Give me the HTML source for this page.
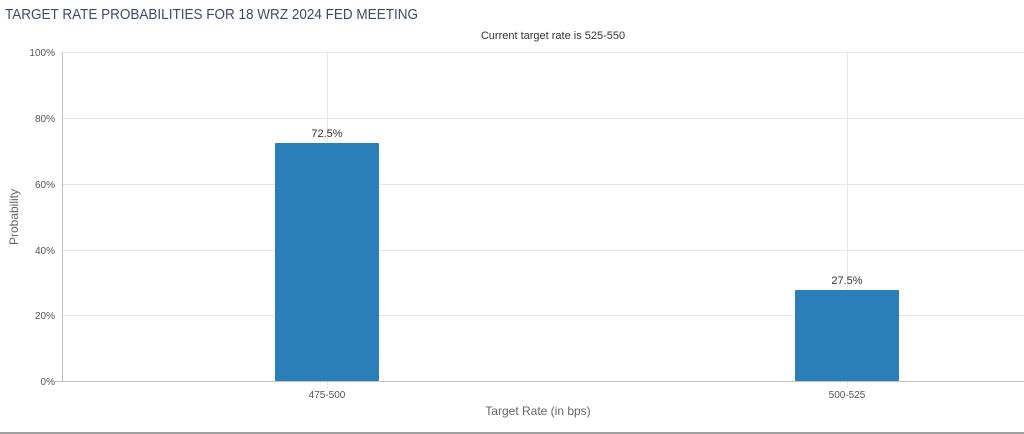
<!DOCTYPE html>
<html><head><meta charset="utf-8"><style>
html,body{margin:0;padding:0;background:#fff;}
svg{display:block;font-family:"Liberation Sans","DejaVu Sans",sans-serif;}
</style></head><body>
<svg width="1024" height="434" viewBox="0 0 1024 434" xmlns="http://www.w3.org/2000/svg">
<rect width="1024" height="434" fill="#fff"/>
<text x="5" y="19" font-size="15" fill="#3d4a6b" textLength="413" lengthAdjust="spacingAndGlyphs">TARGET RATE PROBABILITIES FOR 18 WRZ 2024 FED MEETING</text>
<text x="553" y="39" font-size="11" fill="#333" text-anchor="middle">Current target rate is 525-550</text>
<g stroke="#e6e6e6" stroke-width="1">
<line x1="62" y1="52.5" x2="1024" y2="52.5"/>
<line x1="62" y1="118.5" x2="1024" y2="118.5"/>
<line x1="62" y1="184.5" x2="1024" y2="184.5"/>
<line x1="62" y1="250.5" x2="1024" y2="250.5"/>
<line x1="62" y1="315.5" x2="1024" y2="315.5"/>
<line x1="327.5" y1="52" x2="327.5" y2="388"/>
<line x1="847.5" y1="52" x2="847.5" y2="388"/>
</g>
<line x1="62.5" y1="52" x2="62.5" y2="381" stroke="#c0c0c0"/>
<line x1="55" y1="381.5" x2="1024" y2="381.5" stroke="#c0c0c0"/>
<g font-size="10" fill="#555" text-anchor="end">
<text x="55" y="56">100%</text>
<text x="55" y="122">80%</text>
<text x="55" y="188">60%</text>
<text x="55" y="254">40%</text>
<text x="55" y="319">20%</text>
<text x="55" y="385">0%</text>
</g>
<text transform="translate(18,217) rotate(-90)" font-size="12" fill="#666" text-anchor="middle">Probability</text>
<rect x="275" y="143" width="104" height="238" fill="#2a7fb8" rx="1"/>
<rect x="795" y="290" width="104" height="91" fill="#2a7fb8" rx="1"/>
<g font-size="11" fill="#333" text-anchor="middle">
<text x="327" y="137">72.5%</text>
<text x="847" y="284">27.5%</text>
</g>
<g font-size="10" fill="#555" text-anchor="middle">
<text x="327" y="398">475-500</text>
<text x="847" y="398">500-525</text>
</g>
<text x="538" y="415" font-size="12" fill="#666" text-anchor="middle">Target Rate (in bps)</text>
<line x1="0" y1="433" x2="1024" y2="433" stroke="#a0a0a0" stroke-width="2"/>
</svg>
</body></html>
